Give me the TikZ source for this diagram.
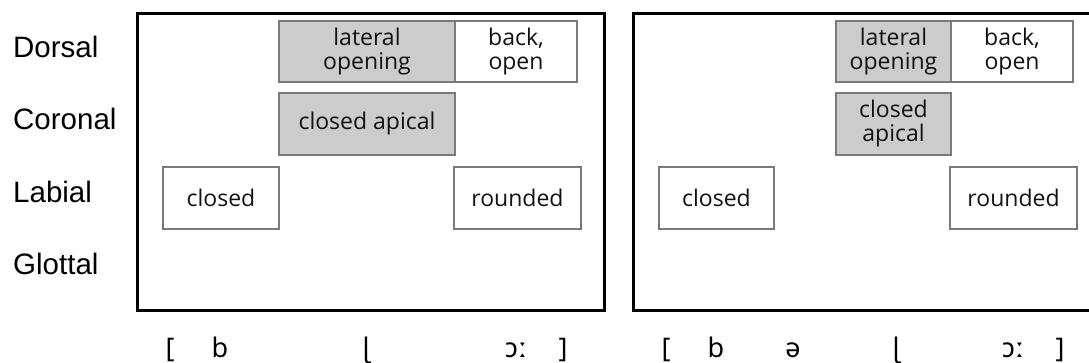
\documentclass[tikz,border=0pt]{standalone}
\usepackage{fontspec}
\setmainfont{Open Sans}
\newfontfamily\rowfont{Liberation Sans}
\newfontfamily\ipafont{Noto Sans}
\definecolor{boxfill}{HTML}{CCCCCC}
\definecolor{boxline}{HTML}{7A7A7A}
\definecolor{txt}{HTML}{111111}
\begin{document}
\begin{tikzpicture}[x=1pt,y=-1pt,
  rowlab/.style={anchor=base west,inner sep=0pt,font=\rowfont\fontsize{29.5}{31}\selectfont},
  feat/.style={draw=boxline,line width=1.3pt,fill=white,align=center,inner sep=0pt,
    text=txt,font=\fontsize{23}{24}\selectfont},
  gfeat/.style={feat,fill=boxfill},
  frame/.style={draw=black,line width=3pt},
  ipa/.style={anchor=base,inner sep=0pt,font=\ipafont\fontsize{27}{29}\selectfont}]
\useasboundingbox (0,0) rectangle (1089,363);
% row labels
\node[rowlab] (dors) at (13,58) {Dorsal};
\node[rowlab] (coro) at (13,130) {Coronal};
\node[rowlab] (labi) at (13,203) {Labial};
\node[rowlab] (glot) at (13,275) {Glottal};
% frames
\draw[frame] (137,14) rectangle (604,310);
\draw[frame] (1095,14) -- (633,14) -- (633,310) -- (1095,310);
% left panel
\node[gfeat,minimum width=176pt,minimum height=61pt] (latL) at (367,51.5) {lateral\\opening};
\node[feat,minimum width=122pt,minimum height=61pt] (backL) at (516,51.5) {back,\\open};
\node[gfeat,minimum width=176pt,minimum height=62pt] (apiL) at (367,124) {closed apical};
\node[feat,minimum width=116pt,minimum height=62pt] (cloL) at (221,198) {closed};
\node[feat,minimum width=127pt,minimum height=62pt] (rndL) at (517.5,198) {rounded};
% right panel
\node[gfeat,minimum width=115pt,minimum height=61pt] (latR) at (893.5,51.5) {lateral\\opening};
\node[feat,minimum width=122pt,minimum height=61pt] (backR) at (1012,51.5) {back,\\open};
\node[gfeat,minimum width=115pt,minimum height=62pt] (apiR) at (893.5,124) {closed\\apical};
\node[feat,minimum width=115pt,minimum height=62pt] (cloR) at (716.5,198) {closed};
\node[feat,minimum width=127pt,minimum height=62pt] (rndR) at (1013.5,198) {rounded};
% transcriptions
\node[ipa] (lb1) at (170,357) {[};
\node[ipa] (b1) at (220,357) {b};
\node[ipa] (l1) at (366,357) {ɭ};
\node[ipa] (o1) at (516,357) {ɔː};
\node[ipa] (rb1) at (563,357) {]};
\node[ipa] (lb2) at (666,357) {[};
\node[ipa] (b2) at (716,357) {b};
\node[ipa] (e2) at (793,357) {ə};
\node[ipa] (l2) at (896,357) {ɭ};
\node[ipa] (o2) at (1013,357) {ɔː};
\node[ipa] (rb2) at (1060,357) {]};
\end{tikzpicture}
\end{document}
